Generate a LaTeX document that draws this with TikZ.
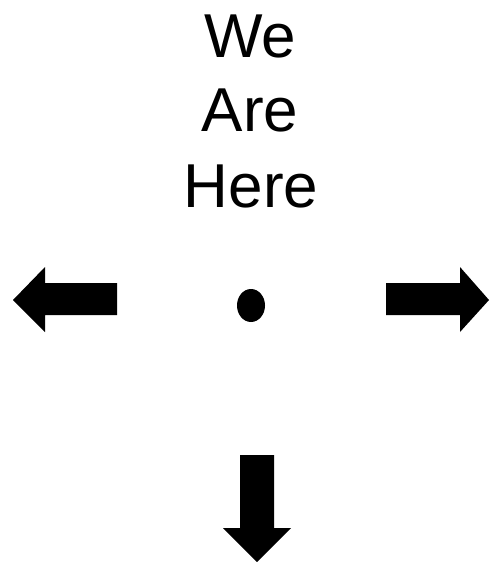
\documentclass[tikz,border=0pt]{standalone}
\usepackage{fontspec}
\setmainfont{Liberation Sans}
\begin{document}
\begin{tikzpicture}[x=1pt,y=-1pt,
  label/.style={anchor=base,inner sep=0pt,font=\fontsize{62}{75}\selectfont},
  blockarrow/.style={fill=black,draw=none}]
\useasboundingbox (0,0) rectangle (490,562);
\node[label] (we) at (250,57) {We};
\node[label] (are) at (250,131) {Are};
\node[label] (here) at (251,207) {Here};
% dot
\fill (251,305.5) ellipse [x radius=14, y radius=16.5];
% left arrow
\path[blockarrow] (117,283) -- (45,283) -- (45,267) -- (13,300) -- (45,332) -- (45,315) -- (117,315) -- cycle;
% right arrow
\path[blockarrow] (386,283) -- (460,283) -- (460,267) -- (489,300) -- (460,332) -- (460,315) -- (386,315) -- cycle;
% down arrow
\path[blockarrow] (240,455) -- (274,455) -- (274,528) -- (291,528) -- (257,562) -- (223,528) -- (240,528) -- cycle;
\end{tikzpicture}
\end{document}
